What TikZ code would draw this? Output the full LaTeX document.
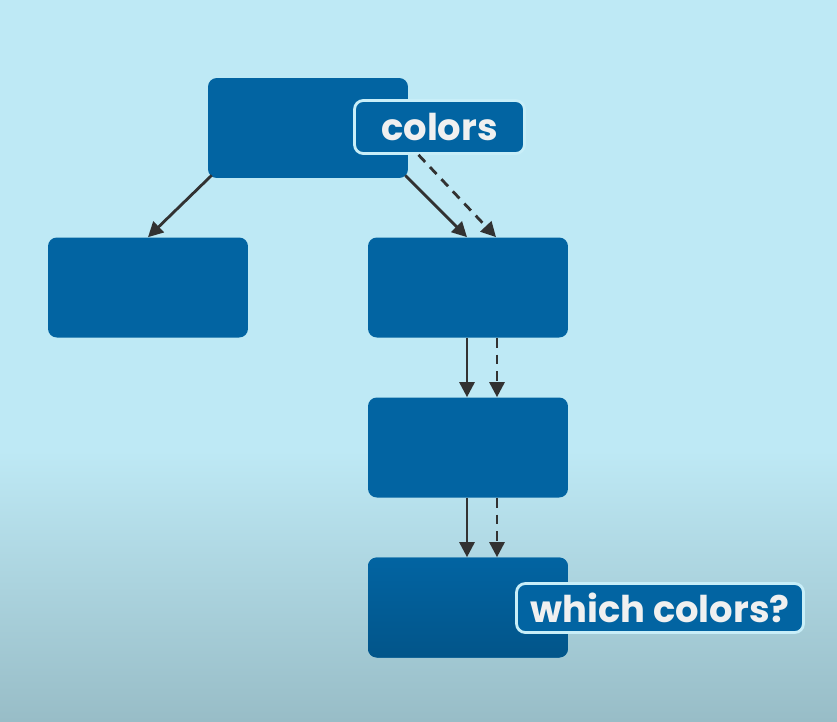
\documentclass[tikz,border=0pt]{standalone}
\usepackage{fontspec}
\setmainfont{Poppins}
\usetikzlibrary{positioning,arrows.meta,shapes}

\definecolor{skyback}{RGB}{190,233,245}
\definecolor{skylow}{RGB}{152,189,199}
\definecolor{boxblue}{RGB}{2,100,162}
\definecolor{tagline}{RGB}{200,238,248}
\definecolor{arrowgray}{RGB}{50,50,50}

\begin{document}
\begin{tikzpicture}[x=0.02cm, y=-0.02cm,
        treebox/.style={fill=boxblue, rounded corners=5pt, minimum width=4cm, minimum height=2cm},
        tagbox/.style={fill=boxblue, draw=tagline, line width=1.6pt, rounded corners=5pt,
            text=white!94!black, font=\bfseries\fontsize{21}{24}\selectfont, inner sep=0pt},
        link/.style={draw=arrowgray, line width=1.6pt, -{Triangle[width=8.5pt,length=8.5pt]}},
        dashlink/.style={link, dash pattern=on 5.5pt off 4pt}]
        % background
        \fill[skyback] (0,0) rectangle (837,450);
        \shade[top color=skyback, bottom color=skylow] (0,450) rectangle (837,721);
        \useasboundingbox (0,0) rectangle (837,721);

        % tree boxes
        \node[treebox] (root) at (308,128) {};
        \node[treebox] (leftkid) at (148,287.5) {};
        \node[treebox] (rightkid) at (468,287.5) {};
        \node[treebox] (middle) at (468,447.5) {};
        \node[treebox, top color=boxblue, bottom color=boxblue!85!black] (bottom) at (468,607.5) {};

        % labels
        \node[tagbox, minimum width=3.4cm, minimum height=1.06cm] (colors) at (439.5,127) {colors};
        \node[tagbox, minimum width=5.74cm, minimum height=0.98cm] (which) at (660,608) {which colors?};

        % solid arrows
        \draw[link] ([shift={(4,-3)}]root.south west) -- (leftkid.north);
        \draw[link] ([shift={(-3,-3)}]root.south east) -- ([shift={(-1,0)}]rightkid.north);
        \draw[link] ([shift={(-1,0)}]rightkid.south) -- ([shift={(-1,0)}]middle.north);
        \draw[link] ([shift={(-1,0)}]middle.south) -- ([shift={(-1,0)}]bottom.north);

        % dashed arrows
        \draw[dashlink] ([shift={(-21,0)}]colors.south) -- ([shift={(28,0)}]rightkid.north);
        \draw[dashlink] ([shift={(29,0)}]rightkid.south) -- ([shift={(29,0)}]middle.north);
        \draw[dashlink] ([shift={(29,0)}]middle.south) -- ([shift={(29,0)}]bottom.north);
    \end{tikzpicture}
\end{document}
